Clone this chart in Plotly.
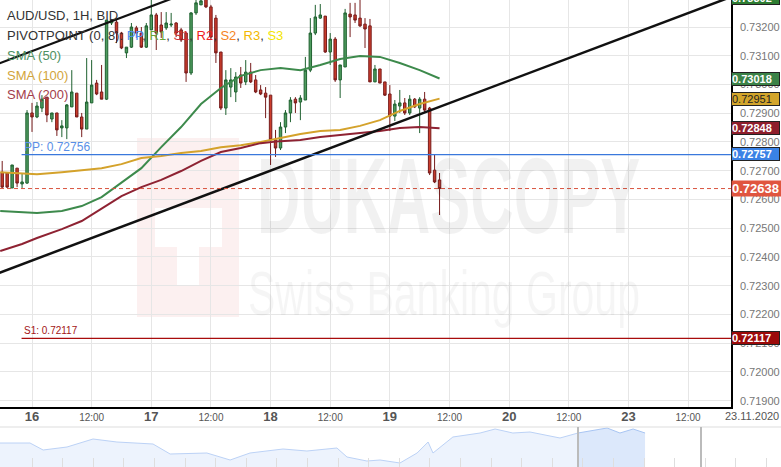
import plotly.graph_objects as go

# ---------------- data ----------------
hours = list(range(-6, 83))  # hour index, 0 = 16 Nov 00:00, weekend removed

open_p = [0.72695, 0.72692, 0.72640, 0.72709, 0.72654, 0.72657, 0.72901, 0.72887, 0.72918, 0.72956,
          0.72880, 0.72901, 0.72849, 0.72849, 0.72922, 0.72970, 0.72887, 0.72845, 0.72936, 0.73005,
          0.72974, 0.72949, 0.73214, 0.73217, 0.73179, 0.73110, 0.73130, 0.73197, 0.73179, 0.73130,
          0.73190, 0.73242, 0.73207, 0.73197, 0.73207, 0.73214, 0.73190, 0.73179, 0.73040, 0.73249,
          0.73277, 0.73298, 0.73270, 0.73231, 0.73113, 0.72918, 0.72991, 0.72974, 0.73033, 0.73009,
          0.73043, 0.73016, 0.72981, 0.72970, 0.72963, 0.72807, 0.72779, 0.72852, 0.72901, 0.72949,
          0.72939, 0.72946, 0.73050, 0.73179, 0.73231, 0.73238, 0.73113, 0.73158, 0.73016, 0.73061,
          0.73245, 0.73242, 0.73231, 0.73210, 0.73204, 0.73009, 0.73054, 0.73009, 0.72967, 0.72890,
          0.72925, 0.72936, 0.72901, 0.72949, 0.72918, 0.72949, 0.72918, 0.72702, 0.72668]
high_p = [0.72734, 0.72692, 0.72720, 0.72709, 0.72692, 0.72911, 0.72936, 0.72939, 0.72963, 0.72956,
          0.72901, 0.72901, 0.72876, 0.72932, 0.73050, 0.72970, 0.72901, 0.73092, 0.73085, 0.73016,
          0.73068, 0.73224, 0.73228, 0.73224, 0.73183, 0.73130, 0.73214, 0.73204, 0.73200, 0.73214,
          0.73310, 0.73249, 0.73252, 0.73252, 0.73249, 0.73217, 0.73197, 0.73183, 0.73252, 0.73305,
          0.73310, 0.73315, 0.73277, 0.73242, 0.73113, 0.73050, 0.73057, 0.73043, 0.73061, 0.73085,
          0.73075, 0.73033, 0.72998, 0.72991, 0.72963, 0.72842, 0.72869, 0.72911, 0.72956, 0.72956,
          0.72963, 0.73096, 0.73231, 0.73277, 0.73280, 0.73238, 0.73179, 0.73165, 0.73068, 0.73263,
          0.73284, 0.73284, 0.73294, 0.73231, 0.73228, 0.73068, 0.73054, 0.73009, 0.72998, 0.72946,
          0.72981, 0.72953, 0.72963, 0.72953, 0.72956, 0.72974, 0.72922, 0.72755, 0.72692]
low_p = [0.72640, 0.72640, 0.72640, 0.72643, 0.72640, 0.72654, 0.72835, 0.72883, 0.72904, 0.72869,
         0.72869, 0.72821, 0.72817, 0.72810, 0.72922, 0.72887, 0.72817, 0.72845, 0.72936, 0.72963,
         0.72949, 0.72946, 0.73207, 0.73144, 0.73123, 0.73092, 0.73127, 0.73162, 0.73127, 0.73127,
         0.73190, 0.73120, 0.73162, 0.73190, 0.73200, 0.73165, 0.73148, 0.73009, 0.73033, 0.73242,
         0.73277, 0.73266, 0.73155, 0.73075, 0.72911, 0.72894, 0.72956, 0.72939, 0.72988, 0.72998,
         0.73005, 0.72970, 0.72963, 0.72883, 0.72720, 0.72748, 0.72772, 0.72831, 0.72869, 0.72901,
         0.72876, 0.72946, 0.73043, 0.73172, 0.73228, 0.73110, 0.73068, 0.73009, 0.72953, 0.73061,
         0.73165, 0.73214, 0.73200, 0.73127, 0.73009, 0.73009, 0.73005, 0.72960, 0.72838, 0.72873,
         0.72901, 0.72894, 0.72894, 0.72918, 0.72831, 0.72904, 0.72685, 0.72657, 0.72546]
close_p = [0.72643, 0.72643, 0.72720, 0.72657, 0.72661, 0.72901, 0.72887, 0.72925, 0.72949, 0.72894,
           0.72901, 0.72842, 0.72856, 0.72929, 0.72974, 0.72887, 0.72845, 0.72939, 0.72998, 0.72967,
           0.72949, 0.73224, 0.73224, 0.73179, 0.73127, 0.73130, 0.73200, 0.73179, 0.73130, 0.73204,
           0.73242, 0.73179, 0.73183, 0.73214, 0.73210, 0.73179, 0.73155, 0.73040, 0.73249, 0.73284,
           0.73291, 0.73270, 0.73165, 0.73110, 0.72918, 0.73016, 0.73016, 0.73026, 0.73005, 0.73043,
           0.73009, 0.72974, 0.72967, 0.72956, 0.72807, 0.72779, 0.72852, 0.72901, 0.72946, 0.72936,
           0.72953, 0.73050, 0.73179, 0.73235, 0.73242, 0.73113, 0.73158, 0.73016, 0.73068, 0.73249,
           0.73235, 0.73224, 0.73204, 0.73193, 0.73009, 0.73054, 0.73005, 0.72963, 0.72890, 0.72932,
           0.72936, 0.72901, 0.72949, 0.72922, 0.72949, 0.72911, 0.72692, 0.72661, 0.72638]

sma_hours = [-6.4, -2, 1, 6, 10, 14, 18, 22, 26, 30, 34, 38, 42, 46, 50, 54, 58, 62, 66, 70, 74, 78, 82]
sma50 = [0.72560, 0.72556, 0.72553, 0.72560, 0.72577, 0.72608, 0.72657, 0.72709, 0.72782, 0.72852,
         0.72932, 0.72988, 0.73030, 0.73050, 0.73057, 0.73050, 0.73068, 0.73089, 0.73099, 0.73096,
         0.73075, 0.73050, 0.73021]
sma100 = [0.72695, 0.72692, 0.72688, 0.72695, 0.72702, 0.72709, 0.72723, 0.72744, 0.72751, 0.72762,
          0.72769, 0.72782, 0.72789, 0.72800, 0.72814, 0.72828, 0.72838, 0.72842, 0.72856, 0.72876,
          0.72908, 0.72932, 0.72951]
sma200 = [0.72421, 0.72445, 0.72466, 0.72497, 0.72525, 0.72570, 0.72612, 0.72643, 0.72668, 0.72699,
          0.72734, 0.72765, 0.72779, 0.72796, 0.72803, 0.72807, 0.72817, 0.72824, 0.72831, 0.72838,
          0.72849, 0.72852, 0.72848]

trend_lower_hours = [-7, 141]
trend_lower_price = [0.72342, 0.73307]
trend_upper_hours = [-7, 34]
trend_upper_price = [0.73071, 0.73337]

pivot_start_hour = -2.1
pivot_pp = 0.72756
pivot_s1 = 0.72117
last_price = 0.72638

tick_hours = [0, 12, 24, 36, 48, 60, 72, 84, 96, 108, 120, 132]
tick_labels = ["16", "12:00", "17", "12:00", "18", "12:00", "19", "12:00", "20", "12:00", "23", "12:00"]
price_ticks = [0.71900, 0.72000, 0.72100, 0.72200, 0.72300, 0.72400, 0.72500,
               0.72600, 0.72700, 0.72800, 0.72900, 0.73000, 0.73100, 0.73200]

box_values = [0.73018, 0.72951, 0.72848, 0.72757, 0.72117]
top_box_value = 0.73302

nav_time = [0.0, 0.98, 1.41, 2.19, 3.04, 3.82, 5.0, 5.56, 6.76, 7.52, 8.17, 9.25, 10.03, 11.01, 11.34,
            11.99, 12.42, 13.07, 13.63, 13.99, 14.15, 14.8, 15.69, 16.18, 16.76, 17.32, 18.3, 18.89,
            19.84, 20.26, 20.69, 21.08]
nav_level = [24, 24, 17, 20, 28, 25, 23, 13, 14, 7, 14, 18, 16, 19, 10, 6, 7, 4, 14, 25, 14, 30, 34,
             38, 34, 35, 29, 34, 39, 34, 38, 34]
nav_split = 27

# ---------------- styling ----------------
W, H = 781, 467
PR, PB = 731, 407
FONT = "Liberation Sans, Arial, sans-serif"


def px(x):
    return x / W


def py(y):
    return 1 - y / H


fig = go.Figure()

fig.add_trace(go.Candlestick(
    x=hours, open=open_p, high=high_p, low=low_p, close=close_p,
    increasing=dict(line=dict(color="#1f6130", width=1), fillcolor="#4f9c5f"),
    decreasing=dict(line=dict(color="#761b1b", width=1), fillcolor="#cc3d2c"),
    whiskerwidth=0, showlegend=False, hoverinfo="skip"))

for vals, col in [(sma50, "#3d8a4c"), (sma100, "#d4a22b"), (sma200, "#8e2232")]:
    fig.add_trace(go.Scatter(x=sma_hours, y=vals, mode="lines", line=dict(color=col, width=2),
                             showlegend=False, hoverinfo="skip"))

fig.add_trace(go.Scatter(x=trend_lower_hours, y=trend_lower_price, mode="lines",
                         line=dict(color="#111", width=2.5), showlegend=False, hoverinfo="skip"))
fig.add_trace(go.Scatter(x=trend_upper_hours, y=trend_upper_price, mode="lines",
                         line=dict(color="#111", width=2.2), showlegend=False, hoverinfo="skip"))

x_end = 140.64
fig.add_trace(go.Scatter(x=[pivot_start_hour, x_end], y=[pivot_pp, pivot_pp], mode="lines",
                         line=dict(color="#3a78dc", width=1.2), showlegend=False, hoverinfo="skip"))
fig.add_trace(go.Scatter(x=[pivot_start_hour, x_end], y=[pivot_s1, pivot_s1], mode="lines",
                         line=dict(color="#a80c0c", width=1.2), showlegend=False, hoverinfo="skip"))
fig.add_trace(go.Scatter(x=[-6.44, x_end], y=[last_price, last_price], mode="lines",
                         line=dict(color="#d9533e", width=1, dash="4px,3px"), showlegend=False,
                         hoverinfo="skip"))

# navigator
fig.add_trace(go.Scatter(x=nav_time[:nav_split + 1], y=nav_level[:nav_split + 1], mode="lines",
                         fill="tozeroy", fillcolor="#edf3fd", line=dict(color="#bcd2f6", width=1),
                         xaxis="x2", yaxis="y2", showlegend=False, hoverinfo="skip"))
fig.add_trace(go.Scatter(x=nav_time[nav_split:], y=nav_level[nav_split:], mode="lines",
                         fill="tozeroy", fillcolor="#dce8fb", line=dict(color="#a8c5f3", width=1),
                         xaxis="x2", yaxis="y2", showlegend=False, hoverinfo="skip"))

ticktext = []
for t in tick_labels:
    if ":" in t:
        ticktext.append("<span style='font-size:10px'>" + t + "</span>")
    else:
        ticktext.append("<b>" + t + "</b>")

fig.update_layout(
    width=W, height=H, margin=dict(l=0, r=0, t=0, b=0),
    paper_bgcolor="white", plot_bgcolor="white",
    font=dict(family=FONT),
    xaxis=dict(domain=[0, PR / W], range=[-6.44, x_end], tickvals=tick_hours, ticktext=ticktext,
               showgrid=True, gridcolor="#e6e6e6", gridwidth=1, zeroline=False,
               showline=True, linecolor="#000", linewidth=1.5, ticks="",
               ticklabelstandoff=-3,
               tickfont=dict(size=13, color="#555", family=FONT), automargin=False,
               rangeslider=dict(visible=False)),
    yaxis=dict(domain=[1 - PB / H, 1], range=[0.71878, 0.73294], side="right",
               tickvals=price_ticks, tickformat=".5f", showgrid=True, gridcolor="#e6e6e6",
               zeroline=False, showline=True, linecolor="#000", linewidth=1.5, ticks="",
               ticklabelstandoff=5, tickfont=dict(size=11, color="#777", family=FONT),
               automargin=False),
    xaxis2=dict(domain=[0, 1], anchor="y2", range=[0, W / 30.6], showgrid=False, zeroline=False,
                showline=False, showticklabels=False, ticks="inside", ticklen=9, tickcolor="#dedede",
                tickvals=[1.046 + k for k in range(25)], automargin=False),
    yaxis2=dict(domain=[0, 40 / H], range=[0, 40], visible=False),
)

shapes = []
# watermark logo block
shapes.append(dict(type="rect", xref="paper", yref="paper", x0=px(137), x1=px(239), y0=py(317),
                   y1=py(138), fillcolor="#fcf0f0", line=dict(width=0), layer="below"))
shapes.append(dict(type="rect", xref="paper", yref="paper", x0=px(155), x1=px(222), y0=py(247),
                   y1=py(208), fillcolor="white", line=dict(width=0), layer="below"))
shapes.append(dict(type="rect", xref="paper", yref="paper", x0=px(177), x1=px(199), y0=py(285),
                   y1=py(247), fillcolor="white", line=dict(width=0), layer="below"))
# navigator frame
shapes.append(dict(type="line", xref="paper", yref="paper", x0=0, x1=1, y0=40 / H, y1=40 / H,
                   line=dict(color="#dddddd", width=1)))
for xx in (578, 701):
    shapes.append(dict(type="line", xref="paper", yref="paper", x0=px(xx), x1=px(xx), y0=0,
                       y1=40 / H, line=dict(color="#bbbbbb", width=2)))
fig.update_layout(shapes=shapes)

ann = []
# watermark text
ann.append(dict(xref="paper", yref="paper", x=px(449), y=py(196), text="DUKASCOPY", showarrow=False,
                xanchor="center", yanchor="middle",
                font=dict(family="Liberation Sans, Arial", size=60,
                          weight="bold", color="rgba(0,0,0,0.055)")))
ann.append(dict(xref="paper", yref="paper", x=px(444), y=py(293), text="Swiss Banking Group",
                showarrow=False, xanchor="center", yanchor="middle",
                font=dict(family="Liberation Sans, Arial", size=41,
                          color="rgba(0,0,0,0.04)")))

# legend texts
ann.append(dict(xref="paper", yref="paper", x=px(5), y=py(15), xanchor="left", yanchor="middle",
                text="AUD/USD, 1H, BID", showarrow=False, font=dict(size=13, color="#333")))
piv = ("PIVOTPOINT (0, 8): <span style='color:#4a8ef0'>PP</span>, "
       "<span style='color:#6aa33a'>R1</span>, <span style='color:#d23030'>S1</span>, "
       "<span style='color:#ee2020'>R2</span>, <span style='color:#f5841f'>S2</span>, "
       "<span style='color:#f2b800'>R3</span>, <span style='color:#f4e600'>S3</span>")
ann.append(dict(xref="paper", yref="paper", x=px(5), y=py(35), xanchor="left", yanchor="middle",
                text=piv, showarrow=False, font=dict(size=13, color="#333")))
for i, (t, c) in enumerate([("SMA (50)", "#4e9161"), ("SMA (100)", "#d2a53c"),
                            ("SMA (200)", "#a33d4a")]):
    ann.append(dict(xref="paper", yref="paper", x=px(5), y=py(55 + 20 * i), xanchor="left",
                    yanchor="middle", text=t, showarrow=False, font=dict(size=13, color=c)))

# pivot labels
ann.append(dict(x=pivot_start_hour, y=pivot_pp, xanchor="left", yanchor="bottom",
                text=f"PP: {pivot_pp:.5f}", showarrow=False, yshift=-1,
                font=dict(size=12, color="#5a8fe6")))
ann.append(dict(x=pivot_start_hour, y=pivot_s1, xanchor="left", yanchor="bottom",
                text=f"S1: {pivot_s1:.5f}", showarrow=False, yshift=0,
                font=dict(size=10, color="#a31515")))

# right-axis value boxes
styles = [("#3b8247", "white", True), ("#d3a52b", "#222", False), ("#8e1e2c", "white", True),
          ("#3a82e6", "white", True), ("#9c0a0a", "white", True)]
for v, (bg, fg, bold) in zip(box_values, styles):
    txt = f"{v:.5f}"
    if bold:
        txt = "<b>" + txt + "</b>"
    ann.append(dict(xref="paper", x=PR / W, xanchor="left", yref="y", y=v, yanchor="middle",
                    text=txt, showarrow=False, font=dict(size=11, color=fg), bgcolor=bg,
                    bordercolor="#222", borderwidth=1, borderpad=0, width=47, height=12,
                    align="left"))
ann.append(dict(xref="paper", x=PR / W, xanchor="left", yref="paper", y=py(-2), yanchor="middle",
                text=f"<b>{top_box_value:.5f}</b>", showarrow=False, font=dict(size=11, color="white"),
                bgcolor="#2e7d32", bordercolor="#222", borderwidth=1, borderpad=0, width=47,
                height=12, align="left"))
ann.append(dict(xref="paper", x=PR / W, xanchor="left", yref="y", y=last_price, yanchor="middle",
                text=f"<b>{last_price:.5f}</b>", showarrow=False, font=dict(size=13, color="white"),
                bgcolor="#e0553f", borderpad=0, width=50, height=15, align="left"))
ann.append(dict(xref="paper", yref="paper", x=px(752), y=py(416), xanchor="center", yanchor="middle",
                text="23.11.2020", showarrow=False, font=dict(size=11, color="#555")))

fig.update_layout(annotations=ann)

post = """
document.body.style.margin='0px';
document.body.style.overflow='hidden';
var gd = document.getElementById('{plot_id}');
gd.querySelectorAll('text.annotation-text').forEach(function(t){
  var s = null;
  if (t.textContent === 'DUKASCOPY') { s = 'scaleY(1.8)'; }
  if (t.textContent === 'Swiss Banking Group') { s = 'scaleY(1.55)'; }
  if (s) { t.style.transformBox = 'fill-box'; t.style.transformOrigin = 'center';
           t.style.transform = s; }
});
"""
fig.write_html("out.html", config={"displayModeBar": False}, post_script=post)
